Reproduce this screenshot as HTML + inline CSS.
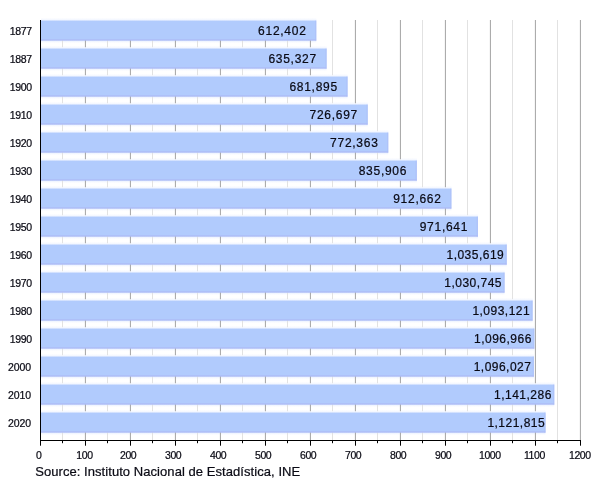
<!DOCTYPE html>
<html><head><meta charset="utf-8"><style>
html,body{margin:0;padding:0;background:#fff;}
body{width:600px;height:480px;position:relative;overflow:hidden;font-family:"Liberation Sans",sans-serif;color:#000;}
svg{position:absolute;left:0;top:0;}
text{font-family:"Liberation Sans",sans-serif;fill:#0a0a14;stroke:#0a0a14;stroke-width:0.22px;}
.y{font-size:10.5px;text-anchor:end;letter-spacing:-0.4px;}
.x{font-size:10.5px;letter-spacing:-0.35px;}
.v{font-size:12px;letter-spacing:0.73px;}
.w{font-size:12px;letter-spacing:0.48px;}
.s{font-size:13px;letter-spacing:0.06px;}
</style></head><body>
<svg width="600" height="480" viewBox="0 0 600 480">
<defs><linearGradient id="bg" x1="0" y1="0" x2="0" y2="1">
<stop offset="0" stop-color="#ffffff" stop-opacity="0"/>
<stop offset="0.03" stop-color="#f4f7ff" stop-opacity="1"/>
<stop offset="0.11" stop-color="#b1cbfd" stop-opacity="1"/>
<stop offset="0.9" stop-color="#b1cbfd" stop-opacity="1"/>
<stop offset="0.96" stop-color="#adbcf6" stop-opacity="1"/>
<stop offset="1" stop-color="#adbcf6" stop-opacity="1"/>
</linearGradient>
<linearGradient id="hz" x1="0" y1="0" x2="0" y2="1">
<stop offset="0" stop-color="#b1cbfd" stop-opacity="0"/>
<stop offset="0.1" stop-color="#b1cbfd" stop-opacity="0.3"/>
<stop offset="0.9" stop-color="#b1cbfd" stop-opacity="0.3"/>
<stop offset="1" stop-color="#b1cbfd" stop-opacity="0"/>
</linearGradient></defs>

<rect x="41" y="18.0" width="275.28" height="25" fill="url(#hz)"/>
<rect x="41" y="46.0" width="285.60" height="25" fill="url(#hz)"/>
<rect x="41" y="74.0" width="306.55" height="25" fill="url(#hz)"/>
<rect x="41" y="102.0" width="326.71" height="25" fill="url(#hz)"/>
<rect x="41" y="130.0" width="347.26" height="25" fill="url(#hz)"/>
<rect x="41" y="158.0" width="375.86" height="25" fill="url(#hz)"/>
<rect x="41" y="186.0" width="410.40" height="25" fill="url(#hz)"/>
<rect x="41" y="214.0" width="436.94" height="25" fill="url(#hz)"/>
<rect x="41" y="242.0" width="465.73" height="25" fill="url(#hz)"/>
<rect x="41" y="270.0" width="463.54" height="25" fill="url(#hz)"/>
<rect x="41" y="298.0" width="491.60" height="25" fill="url(#hz)"/>
<rect x="41" y="326.0" width="493.33" height="25" fill="url(#hz)"/>
<rect x="41" y="354.0" width="492.91" height="25" fill="url(#hz)"/>
<rect x="41" y="382.0" width="513.28" height="25" fill="url(#hz)"/>
<rect x="41" y="410.0" width="504.52" height="25" fill="url(#hz)"/>
<rect x="62" y="20" width="1" height="420" fill="#e2e2e2"/>
<rect x="84.9" y="20" width="1" height="420" fill="#a4a4a4"/>
<rect x="107" y="20" width="1" height="420" fill="#e2e2e2"/>
<rect x="129.9" y="20" width="1" height="420" fill="#a4a4a4"/>
<rect x="152" y="20" width="1" height="420" fill="#e2e2e2"/>
<rect x="174.9" y="20" width="1" height="420" fill="#a4a4a4"/>
<rect x="197" y="20" width="1" height="420" fill="#e2e2e2"/>
<rect x="219.9" y="20" width="1" height="420" fill="#a4a4a4"/>
<rect x="242" y="20" width="1" height="420" fill="#e2e2e2"/>
<rect x="264.9" y="20" width="1" height="420" fill="#a4a4a4"/>
<rect x="287" y="20" width="1" height="420" fill="#e2e2e2"/>
<rect x="309.9" y="20" width="1" height="420" fill="#a4a4a4"/>
<rect x="332" y="20" width="1" height="420" fill="#e2e2e2"/>
<rect x="354.9" y="20" width="1" height="420" fill="#a4a4a4"/>
<rect x="377" y="20" width="1" height="420" fill="#e2e2e2"/>
<rect x="399.9" y="20" width="1" height="420" fill="#a4a4a4"/>
<rect x="422" y="20" width="1" height="420" fill="#e2e2e2"/>
<rect x="444.9" y="20" width="1" height="420" fill="#a4a4a4"/>
<rect x="467" y="20" width="1" height="420" fill="#e2e2e2"/>
<rect x="489.9" y="20" width="1" height="420" fill="#a4a4a4"/>
<rect x="512" y="20" width="1" height="420" fill="#e2e2e2"/>
<rect x="534.9" y="20" width="1" height="420" fill="#a4a4a4"/>
<rect x="557" y="20" width="1" height="420" fill="#e2e2e2"/>
<rect x="579.9" y="20" width="1" height="420" fill="#a4a4a4"/>
<rect x="41" y="19.0" width="275.28" height="21.7" fill="url(#bg)"/>
<rect x="315.08" y="20.6" width="1.2" height="20" fill="#adbcf6" opacity="0.55"/>
<rect x="41" y="47.0" width="285.60" height="21.7" fill="url(#bg)"/>
<rect x="325.40" y="48.6" width="1.2" height="20" fill="#adbcf6" opacity="0.55"/>
<rect x="41" y="75.0" width="306.55" height="21.7" fill="url(#bg)"/>
<rect x="346.35" y="76.6" width="1.2" height="20" fill="#adbcf6" opacity="0.55"/>
<rect x="41" y="103.0" width="326.71" height="21.7" fill="url(#bg)"/>
<rect x="366.51" y="104.6" width="1.2" height="20" fill="#adbcf6" opacity="0.55"/>
<rect x="41" y="131.0" width="347.26" height="21.7" fill="url(#bg)"/>
<rect x="387.06" y="132.6" width="1.2" height="20" fill="#adbcf6" opacity="0.55"/>
<rect x="41" y="159.0" width="375.86" height="21.7" fill="url(#bg)"/>
<rect x="415.66" y="160.6" width="1.2" height="20" fill="#adbcf6" opacity="0.55"/>
<rect x="41" y="187.0" width="410.40" height="21.7" fill="url(#bg)"/>
<rect x="450.20" y="188.6" width="1.2" height="20" fill="#adbcf6" opacity="0.55"/>
<rect x="41" y="215.0" width="436.94" height="21.7" fill="url(#bg)"/>
<rect x="476.74" y="216.6" width="1.2" height="20" fill="#adbcf6" opacity="0.55"/>
<rect x="41" y="243.0" width="465.73" height="21.7" fill="url(#bg)"/>
<rect x="505.53" y="244.6" width="1.2" height="20" fill="#adbcf6" opacity="0.55"/>
<rect x="41" y="271.0" width="463.54" height="21.7" fill="url(#bg)"/>
<rect x="503.34" y="272.6" width="1.2" height="20" fill="#adbcf6" opacity="0.55"/>
<rect x="41" y="299.0" width="491.60" height="21.7" fill="url(#bg)"/>
<rect x="531.40" y="300.6" width="1.2" height="20" fill="#adbcf6" opacity="0.55"/>
<rect x="41" y="327.0" width="493.33" height="21.7" fill="url(#bg)"/>
<rect x="533.13" y="328.6" width="1.2" height="20" fill="#adbcf6" opacity="0.55"/>
<rect x="41" y="355.0" width="492.91" height="21.7" fill="url(#bg)"/>
<rect x="532.71" y="356.6" width="1.2" height="20" fill="#adbcf6" opacity="0.55"/>
<rect x="41" y="383.0" width="513.28" height="21.7" fill="url(#bg)"/>
<rect x="553.08" y="384.6" width="1.2" height="20" fill="#adbcf6" opacity="0.55"/>
<rect x="41" y="411.0" width="504.52" height="21.7" fill="url(#bg)"/>
<rect x="544.32" y="412.6" width="1.2" height="20" fill="#adbcf6" opacity="0.55"/>
<rect x="40" y="20" width="1" height="421" fill="#000"/>
<rect x="40" y="440" width="541" height="1" fill="#000"/>
<rect x="40" y="440" width="1" height="5.7" fill="#000"/>
<rect x="62" y="440" width="1" height="3.2" fill="#000"/>
<rect x="85" y="440" width="1" height="5.7" fill="#000"/>
<rect x="107" y="440" width="1" height="3.2" fill="#000"/>
<rect x="130" y="440" width="1" height="5.7" fill="#000"/>
<rect x="152" y="440" width="1" height="3.2" fill="#000"/>
<rect x="175" y="440" width="1" height="5.7" fill="#000"/>
<rect x="197" y="440" width="1" height="3.2" fill="#000"/>
<rect x="220" y="440" width="1" height="5.7" fill="#000"/>
<rect x="242" y="440" width="1" height="3.2" fill="#000"/>
<rect x="265" y="440" width="1" height="5.7" fill="#000"/>
<rect x="287" y="440" width="1" height="3.2" fill="#000"/>
<rect x="310" y="440" width="1" height="5.7" fill="#000"/>
<rect x="332" y="440" width="1" height="3.2" fill="#000"/>
<rect x="355" y="440" width="1" height="5.7" fill="#000"/>
<rect x="377" y="440" width="1" height="3.2" fill="#000"/>
<rect x="400" y="440" width="1" height="5.7" fill="#000"/>
<rect x="422" y="440" width="1" height="3.2" fill="#000"/>
<rect x="445" y="440" width="1" height="5.7" fill="#000"/>
<rect x="467" y="440" width="1" height="3.2" fill="#000"/>
<rect x="490" y="440" width="1" height="5.7" fill="#000"/>
<rect x="512" y="440" width="1" height="3.2" fill="#000"/>
<rect x="535" y="440" width="1" height="5.7" fill="#000"/>
<rect x="557" y="440" width="1" height="3.2" fill="#000"/>
<rect x="580" y="440" width="1" height="5.7" fill="#000"/>
</svg><svg style="will-change:transform" width="600" height="480" viewBox="0 0 600 480">
<text class="y" x="31.6" y="35">1877</text>
<text class="v" x="258.1" y="34.8">612,402</text>
<text class="y" x="31.6" y="63">1887</text>
<text class="v" x="268.4" y="62.8">635,327</text>
<text class="y" x="31.6" y="91">1900</text>
<text class="v" x="289.4" y="90.8">681,895</text>
<text class="y" x="31.6" y="119">1910</text>
<text class="v" x="309.5" y="118.8">726,697</text>
<text class="y" x="31.6" y="147">1920</text>
<text class="v" x="330.1" y="146.8">772,363</text>
<text class="y" x="31.6" y="175">1930</text>
<text class="v" x="358.7" y="174.8">835,906</text>
<text class="y" x="31.6" y="203">1940</text>
<text class="v" x="393.2" y="202.8">912,662</text>
<text class="y" x="31.6" y="231">1950</text>
<text class="v" x="419.7" y="230.8">971,641</text>
<text class="y" x="31.6" y="259">1960</text>
<text class="w" x="446.5" y="258.8">1,035,619</text>
<text class="y" x="31.6" y="287">1970</text>
<text class="w" x="444.3" y="286.8">1,030,745</text>
<text class="y" x="31.6" y="315">1980</text>
<text class="w" x="472.4" y="314.8">1,093,121</text>
<text class="y" x="31.6" y="343">1990</text>
<text class="w" x="474.1" y="342.8">1,096,966</text>
<text class="y" style="letter-spacing:-0.07px" x="31.0" y="371">2000</text>
<text class="w" x="473.7" y="370.8">1,096,027</text>
<text class="y" style="letter-spacing:-0.07px" x="31.0" y="399">2010</text>
<text class="w" x="494.1" y="398.8">1,141,286</text>
<text class="y" style="letter-spacing:-0.07px" x="31.0" y="427">2020</text>
<text class="w" x="487.4" y="426.8">1,121,815</text>
<text class="x" x="36.1" y="459.2">0</text>
<text class="x" x="76.3" y="459.2">100</text>
<text class="x" x="119.9" y="459.2">200</text>
<text class="x" x="164.9" y="459.2">300</text>
<text class="x" x="209.9" y="459.2">400</text>
<text class="x" x="254.9" y="459.2">500</text>
<text class="x" x="299.9" y="459.2">600</text>
<text class="x" x="344.9" y="459.2">700</text>
<text class="x" x="389.9" y="459.2">800</text>
<text class="x" x="434.9" y="459.2">900</text>
<text class="x" x="478.9" y="459.2">1000</text>
<text class="x" x="523.9" y="459.2">1100</text>
<text class="x" x="568.9" y="459.2">1200</text>
<text class="s" x="35.2" y="475.7">Source: Instituto Nacional de Estadística, INE</text>
</svg></body></html>
